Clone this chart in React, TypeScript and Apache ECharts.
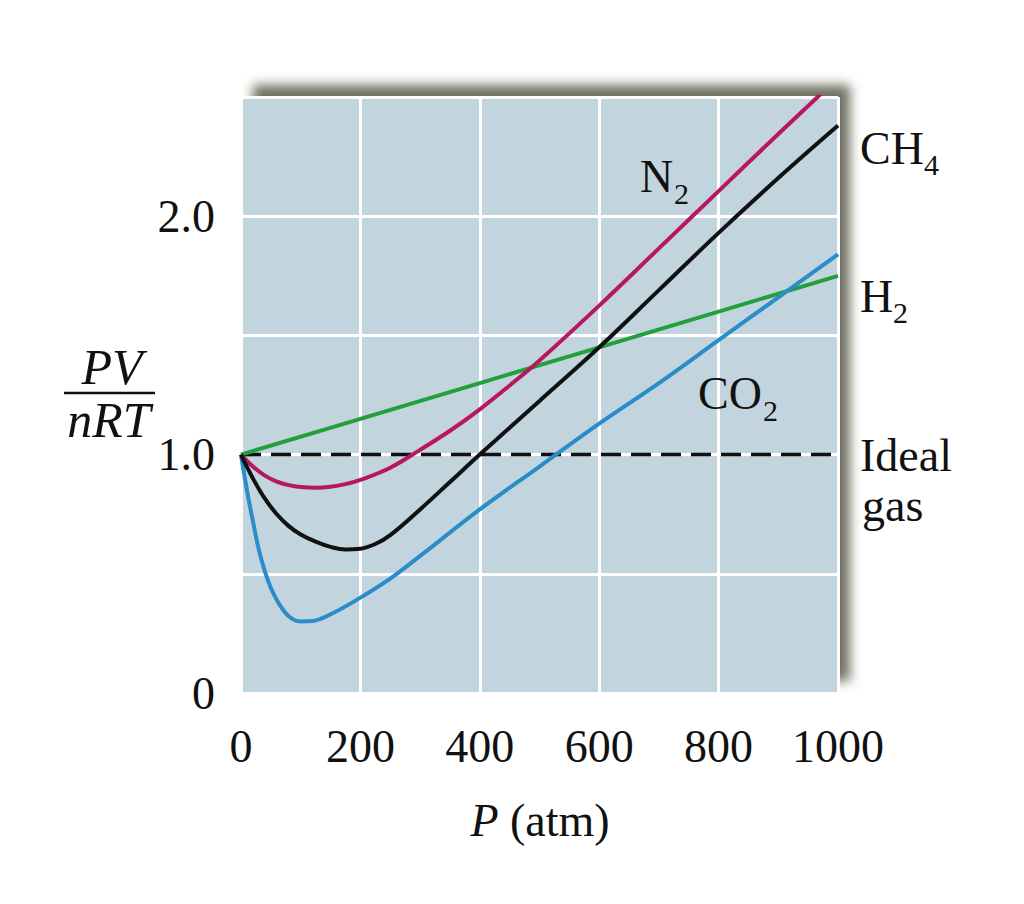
import React, { useEffect, useRef } from "react";
import * as echarts from "echarts";

// Pressure (atm) sample points and PV/nRT readings per gas
const pCH4 = [0, 20, 40, 60, 80, 100, 125, 150, 175, 200, 225, 250, 300, 350, 400, 500, 600, 700, 800, 900, 1000];
const zCH4 = [1.0, 0.9, 0.815, 0.75, 0.7, 0.665, 0.635, 0.613, 0.602, 0.605, 0.625, 0.662, 0.77, 0.885, 1.0, 1.225, 1.45, 1.69, 1.93, 2.16, 2.38];

const pN2 = [0, 20, 40, 60, 80, 100, 125, 150, 175, 200, 250, 300, 350, 400, 450, 500, 600, 700, 800, 900, 1000];
const zN2 = [1.0, 0.95, 0.912, 0.887, 0.872, 0.864, 0.861, 0.865, 0.876, 0.894, 0.945, 1.02, 1.1, 1.19, 1.29, 1.395, 1.625, 1.865, 2.105, 2.345, 2.58];

const pCO2 = [0, 10, 20, 30, 40, 50, 60, 70, 80, 90, 100, 120, 150, 200, 250, 300, 400, 500, 600, 700, 800, 900, 1000];
const zCO2 = [1.0, 0.85, 0.72, 0.6, 0.51, 0.44, 0.39, 0.35, 0.322, 0.305, 0.3, 0.302, 0.33, 0.4, 0.48, 0.575, 0.77, 0.95, 1.13, 1.3, 1.48, 1.66, 1.84];

const pH2 = [0, 200, 400, 600, 800, 1000];
const zH2 = [1.0, 1.15, 1.3, 1.45, 1.6, 1.75];

const pIdeal = [0, 1000];
const zIdeal = [1.0, 1.0];

const xTicks = [0, 200, 400, 600, 800, 1000];
const yLabelled = [0, 1.0, 2.0];

const pairs = (p: number[], z: number[]) => p.map((v, i) => [v, z[i]]);

const FONT = "Liberation Serif";

export default function App() {
  const ref = useRef<HTMLDivElement>(null);
  useEffect(() => {
    const chart = echarts.init(ref.current!, null, { renderer: "svg" });
    const lineSeries = (name: string, p: number[], z: number[], color: string, extra: any = {}) => ({
      name,
      type: "line",
      data: pairs(p, z),
      showSymbol: false,
      smooth: 0.4,
      clip: true,
      lineStyle: { color, width: 4 },
      z: 3,
      ...extra,
    });
    const txt = (text: string, x: number, y: number, size: number, italic = false, align = "left") => ({
      type: "text",
      x,
      y,
      style: {
        text,
        fill: "#111",
        font: `${italic ? "italic " : ""}${size}px "${FONT}"`,
        textAlign: align,
        verticalAlign: "middle",
      },
      z: 10,
    });
    chart.setOption({
      animation: false,
      backgroundColor: "#ffffff",
      grid: {
        left: 241,
        top: 97,
        width: 597,
        height: 596,
        show: true,
        backgroundColor: "#c2d5df",
        borderWidth: 0,
        shadowColor: "rgba(95,95,80,0.9)",
        shadowBlur: 12,
        shadowOffsetX: 12,
        shadowOffsetY: -12,
        outerBoundsMode: "none",
      },
      xAxis: {
        type: "value",
        min: 0,
        max: 1000,
        interval: 200,
        axisLine: { show: false },
        axisTick: { show: false },
        splitLine: { show: true, lineStyle: { color: "#ffffff", width: 3 } },
        axisLabel: {
          fontFamily: FONT,
          fontSize: 46,
          color: "#111",
          margin: 30,
          formatter: (v: number) => (xTicks.includes(v) ? String(v) : ""),
        },
      },
      yAxis: {
        type: "value",
        min: 0,
        max: 2.5,
        interval: 0.5,
        axisLine: { show: false },
        axisTick: { show: false },
        splitLine: { show: true, lineStyle: { color: "#ffffff", width: 3 } },
        axisLabel: {
          fontFamily: FONT,
          fontSize: 46,
          color: "#111",
          margin: 26,
          formatter: (v: number) => {
            const hit = yLabelled.find((t) => Math.abs(t - v) < 1e-6);
            if (hit === undefined) return "";
            return hit === 0 ? "0" : hit.toFixed(1);
          },
        },
      },
      series: [
        {
          name: "Ideal gas",
          type: "line",
          data: pairs(pIdeal, zIdeal),
          showSymbol: false,
          lineStyle: { color: "#111", width: 3.5, type: [20, 10] },
          z: 2,
        },
        lineSeries("H2", pH2, zH2, "#22a03c", { smooth: false }),
        lineSeries("CO2", pCO2, zCO2, "#2a8cc8"),
        lineSeries("N2", pN2, zN2, "#b8175f"),
        lineSeries("CH4", pCH4, zCH4, "#111111"),
      ],
      graphic: [
        // y-axis title as a fraction
        txt("PV", 112, 367, 50, true, "center"),
        {
          type: "line",
          shape: { x1: 64, y1: 393, x2: 155, y2: 393 },
          style: { stroke: "#111", lineWidth: 2.5 },
        },
        txt("nRT", 109, 420, 50, true, "center"),
        // x-axis title
        {
          type: "text",
          x: 540,
          y: 820,
          style: {
            text: "{i|P} (atm)",
            fill: "#111",
            font: `46px "${FONT}"`,
            textAlign: "center",
            verticalAlign: "middle",
            rich: { i: { fontStyle: "italic", fontFamily: FONT, fontSize: 46, fill: "#111" } },
          },
        },
        // series labels
        txt("N", 640, 176, 46),
        txt("2", 674, 193, 30),
        txt("CH", 860, 148, 46),
        txt("4", 924, 164, 30),
        txt("H", 860, 296, 46),
        txt("2", 893, 312, 30),
        txt("CO", 698, 393, 46),
        txt("2", 763, 410, 30),
        txt("Ideal", 860, 455, 46),
        txt("gas", 862, 505, 46),
      ],
    });
    return () => chart.dispose();
  }, []);
  return (
    <div
      ref={ref}
      style={{ position: "absolute", left: 0, top: 0, width: 1024, height: 904 }}
    />
  );
}
